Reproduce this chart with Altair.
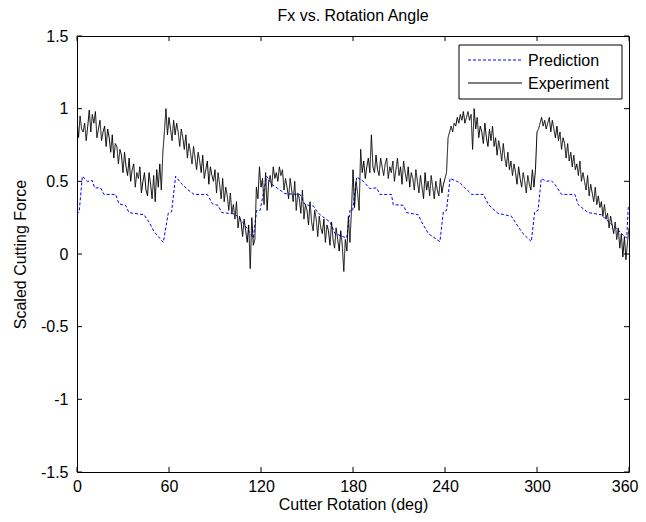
import altair as alt
import pandas as pd

# ---- data ----
exp_angle = list(range(0, 361))
experiment = [
    0.92, 0.80, 0.95, 0.86, 0.84, 0.90, 0.78, 0.88, 0.99, 0.84,
    0.96, 0.90, 0.98, 0.80, 0.86, 0.92, 0.78, 0.84, 0.88, 0.74,
    0.86, 0.80, 0.70, 0.82, 0.66, 0.76, 0.74, 0.62, 0.72, 0.68,
    0.56, 0.70, 0.60, 0.54, 0.66, 0.50, 0.58, 0.62, 0.46, 0.56,
    0.52, 0.60, 0.42, 0.50, 0.56, 0.44, 0.40, 0.56, 0.48, 0.38,
    0.54, 0.36, 0.58, 0.46, 0.62, 0.44, 0.70, 0.84, 1.00, 0.82,
    0.94, 0.86, 0.78, 0.92, 0.82, 0.90, 0.84, 0.74, 0.86, 0.80,
    0.72, 0.82, 0.66, 0.76, 0.70, 0.62, 0.74, 0.66, 0.58, 0.70,
    0.64, 0.56, 0.68, 0.52, 0.58, 0.64, 0.48, 0.60, 0.54, 0.50,
    0.58, 0.42, 0.56, 0.48, 0.38, 0.52, 0.36, 0.46, 0.40, 0.30,
    0.42, 0.28, 0.34, 0.24, 0.36, 0.18, 0.26, 0.22, 0.12, 0.24,
    0.16, 0.08, 0.20, -0.10, 0.25, 0.06, 0.10, 0.46, 0.38, 0.60,
    0.46, 0.52, 0.34, 0.56, 0.30, 0.50, 0.54, 0.46, 0.60, 0.52,
    0.56, 0.50, 0.60, 0.54, 0.58, 0.44, 0.52, 0.46, 0.38, 0.52,
    0.44, 0.36, 0.50, 0.30, 0.42, 0.38, 0.28, 0.44, 0.24, 0.34,
    0.30, 0.20, 0.36, 0.22, 0.16, 0.30, 0.24, 0.12, 0.26, 0.18,
    0.14, 0.24, 0.08, 0.20, 0.16, 0.06, 0.22, 0.10, 0.04, 0.18,
    0.10, 0.02, 0.16, 0.06, -0.12, 0.10, 0.02, 0.26, 0.08, 0.30,
    0.58, 0.32, 0.50, 0.42, 0.30, 0.72, 0.56, 0.64, 0.52, 0.60,
    0.66, 0.56, 0.82, 0.60, 0.56, 0.68, 0.58, 0.54, 0.66, 0.60,
    0.54, 0.62, 0.66, 0.52, 0.60, 0.56, 0.64, 0.50, 0.58, 0.66,
    0.54, 0.60, 0.48, 0.64, 0.56, 0.50, 0.60, 0.46, 0.56, 0.52,
    0.44, 0.58, 0.50, 0.42, 0.54, 0.46, 0.38, 0.56, 0.44, 0.50,
    0.40, 0.54, 0.46, 0.38, 0.50, 0.44, 0.40, 0.52, 0.42, 0.48,
    0.52, 0.56, 0.80, 0.84, 0.88, 0.84, 0.90, 0.88, 0.94, 0.90,
    0.96, 0.92, 0.98, 0.90, 0.94, 0.98, 0.92, 0.96, 0.72, 1.00,
    0.86, 0.94, 0.80, 0.88, 0.84, 0.76, 0.90, 0.80, 0.74, 0.86,
    0.78, 0.88, 0.74, 0.80, 0.68, 0.78, 0.72, 0.64, 0.76, 0.66,
    0.60, 0.70, 0.58, 0.64, 0.54, 0.62, 0.56, 0.48, 0.60, 0.52,
    0.46, 0.56, 0.50, 0.42, 0.54, 0.48, 0.44, 0.58, 0.46, 0.58,
    0.84, 0.86, 0.90, 0.94, 0.88, 0.92, 0.86, 0.90, 0.94, 0.84,
    0.92, 0.86, 0.80, 0.88, 0.78, 0.84, 0.72, 0.80, 0.76, 0.66,
    0.76, 0.64, 0.70, 0.60, 0.68, 0.58, 0.62, 0.54, 0.64, 0.50,
    0.56, 0.50, 0.44, 0.54, 0.40, 0.48, 0.42, 0.36, 0.46, 0.34,
    0.40, 0.32, 0.36, 0.26, 0.34, 0.24, 0.28, 0.18, 0.26, 0.20,
    0.14, 0.22, 0.10, 0.18, 0.04, 0.14, -0.02, 0.12, -0.04, 0.08,
    0.18,
]

pred_angle = [
    0.0, 1.5, 3.5, 6.7, 10.0, 11.5, 15.4, 17.6, 25.2, 27.4, 31.7, 33.9,
    43.7, 47.0, 50.2, 56.3, 59.5, 61.7, 64.3, 67.6, 72.0, 76.3, 85.0, 88.3,
    92.0, 94.4, 103.0, 107.4, 115.0, 117.2, 119.4, 123.7, 127.0, 132.4,
    135.6, 145.4, 148.7, 154.2, 157.4, 165.0, 168.3, 175.9, 178.0, 179.8,
    182.4, 186.7, 191.0, 195.4, 197.5, 205.1, 206.2, 212.8, 215.0, 222.6,
    224.8, 229.2, 236.7, 238.9, 241.0, 243.3, 247.6, 249.8, 253.0, 257.4,
    265.0, 268.3, 274.5, 283.3, 287.6, 290.9, 296.3, 298.5, 300.7, 302.8,
    306.0, 309.3, 311.6, 316.0, 324.7, 326.8, 333.3, 342.0, 345.3, 352.9,
    356.2, 358.5, 359.5, 360.0,
]
prediction = [
    0.27, 0.30, 0.535, 0.50, 0.505, 0.455, 0.455, 0.41, 0.41, 0.345, 0.335, 0.285,
    0.27, 0.22, 0.155, 0.08, 0.28, 0.29, 0.535, 0.49, 0.445, 0.41, 0.41, 0.345,
    0.335, 0.285, 0.275, 0.23, 0.11, 0.30, 0.30, 0.535, 0.48, 0.44,
    0.415, 0.41, 0.34, 0.33, 0.28, 0.22, 0.14, 0.11, 0.30, 0.30,
    0.53, 0.50, 0.45, 0.455, 0.41, 0.41, 0.34, 0.335, 0.285, 0.27,
    0.22, 0.14, 0.085, 0.29, 0.30, 0.52, 0.50, 0.49, 0.455, 0.41,
    0.41, 0.34, 0.28, 0.26, 0.19, 0.14, 0.085, 0.29, 0.30, 0.52,
    0.50, 0.505, 0.48, 0.41, 0.41, 0.34, 0.285, 0.27, 0.235, 0.165,
    0.13, 0.11, 0.32, 0.32,
]

series_names = ["Prediction", "Experiment"]
series_colors = ["#0000ff", "#000000"]
series_dashes = [[3, 2], [1, 0]]

x_ticks = [0, 60, 120, 180, 240, 300, 360]
y_ticks = [-1.5, -1, -0.5, 0, 0.5, 1, 1.5]

W, H = 552, 436
FONT = "Liberation Sans"

df = pd.concat([
    pd.DataFrame({"angle": pred_angle, "force": prediction, "series": "Prediction"}),
    pd.DataFrame({"angle": exp_angle, "force": experiment, "series": "Experiment"}),
])

x_scale = alt.Scale(domain=[0, 360], nice=False, zero=False)
y_scale = alt.Scale(domain=[-1.5, 1.5], nice=False, zero=False)

lines = alt.Chart(df).mark_line(strokeWidth=1, clip=True).encode(
    x=alt.X("angle:Q", scale=x_scale,
            axis=alt.Axis(values=x_ticks, title="Cutter Rotation (deg)",
                          labelPadding=6, titlePadding=2, labelFlush=False,
                          labelAlign={"condition": {"test": "datum.value == 360", "value": "right"},
                                      "value": "center"},
                          labelOffset={"condition": {"test": "datum.value == 360", "value": 9},
                                       "value": 0})),
    y=alt.Y("force:Q", scale=y_scale,
            axis=alt.Axis(values=y_ticks, title="Scaled Cutting Force",
                          labelPadding=9, titlePadding=12,
                          labelExpr="'' + datum.value")),
    color=alt.Color("series:N",
                    scale=alt.Scale(domain=series_names, range=series_colors),
                    legend=None),
    strokeDash=alt.StrokeDash("series:N",
                              scale=alt.Scale(domain=series_names, range=series_dashes),
                              legend=None),
)

xt = pd.DataFrame({"angle": x_ticks})
yt = pd.DataFrame({"force": y_ticks})
tick_len = 5

bottom_ticks = alt.Chart(xt).mark_rule(color="black", strokeWidth=1).encode(
    x=alt.X("angle:Q", scale=x_scale), y=alt.value(H), y2=alt.value(H - tick_len))
top_ticks = alt.Chart(xt).mark_rule(color="black", strokeWidth=1).encode(
    x=alt.X("angle:Q", scale=x_scale), y=alt.value(0), y2=alt.value(tick_len))
left_ticks = alt.Chart(yt).mark_rule(color="black", strokeWidth=1).encode(
    y=alt.Y("force:Q", scale=y_scale), x=alt.value(0), x2=alt.value(tick_len))
right_ticks = alt.Chart(yt).mark_rule(color="black", strokeWidth=1).encode(
    y=alt.Y("force:Q", scale=y_scale), x=alt.value(W), x2=alt.value(W - tick_len))

# ---- legend box (top-right, MATLAB style) ----
LX0, LX1, LY0, LY1 = 382, 545, 9, 63
row_y = [24, 47]
leg_df = pd.DataFrame({"series": series_names})
legend_layers = [
    alt.Chart(leg_df.iloc[:1]).mark_rect(fill="white", stroke="black", strokeWidth=1).encode(
        x=alt.value(LX0), x2=alt.value(LX1), y=alt.value(LY0), y2=alt.value(LY1))
]
for i, name in enumerate(series_names):
    sub = leg_df.iloc[i:i + 1]
    legend_layers.append(
        alt.Chart(sub).mark_rule(color=series_colors[i], strokeWidth=1,
                                 strokeDash=series_dashes[i]).encode(
            x=alt.value(LX0 + 9), x2=alt.value(LX0 + 63), y=alt.value(row_y[i]))
    )
    legend_layers.append(
        alt.Chart(sub).mark_text(align="left", baseline="middle", font=FONT,
                                 fontSize=16, color="black").encode(
            text="series:N", x=alt.value(LX0 + 69), y=alt.value(row_y[i] + 1))
    )

chart = alt.layer(lines, bottom_ticks, top_ticks, left_ticks, right_ticks,
                  *legend_layers).properties(
    width=W, height=H,
    title=alt.Title("Fx vs. Rotation Angle", font=FONT, fontSize=16,
                    fontWeight="normal", color="black", offset=4),
    autosize=alt.AutoSizeParams(type="none"),
    padding={"left": 69, "top": 28, "right": 9, "bottom": 48},
    background="white",
).configure_view(
    stroke="black", strokeWidth=1
).configure_axis(
    domain=False, ticks=False, grid=False,
    labelFont=FONT, labelFontSize=16, labelColor="black",
    titleFont=FONT, titleFontSize=16, titleColor="black", titleFontWeight="normal",
)

chart.save("out.html", embed_options={"renderer": "svg", "actions": False})
